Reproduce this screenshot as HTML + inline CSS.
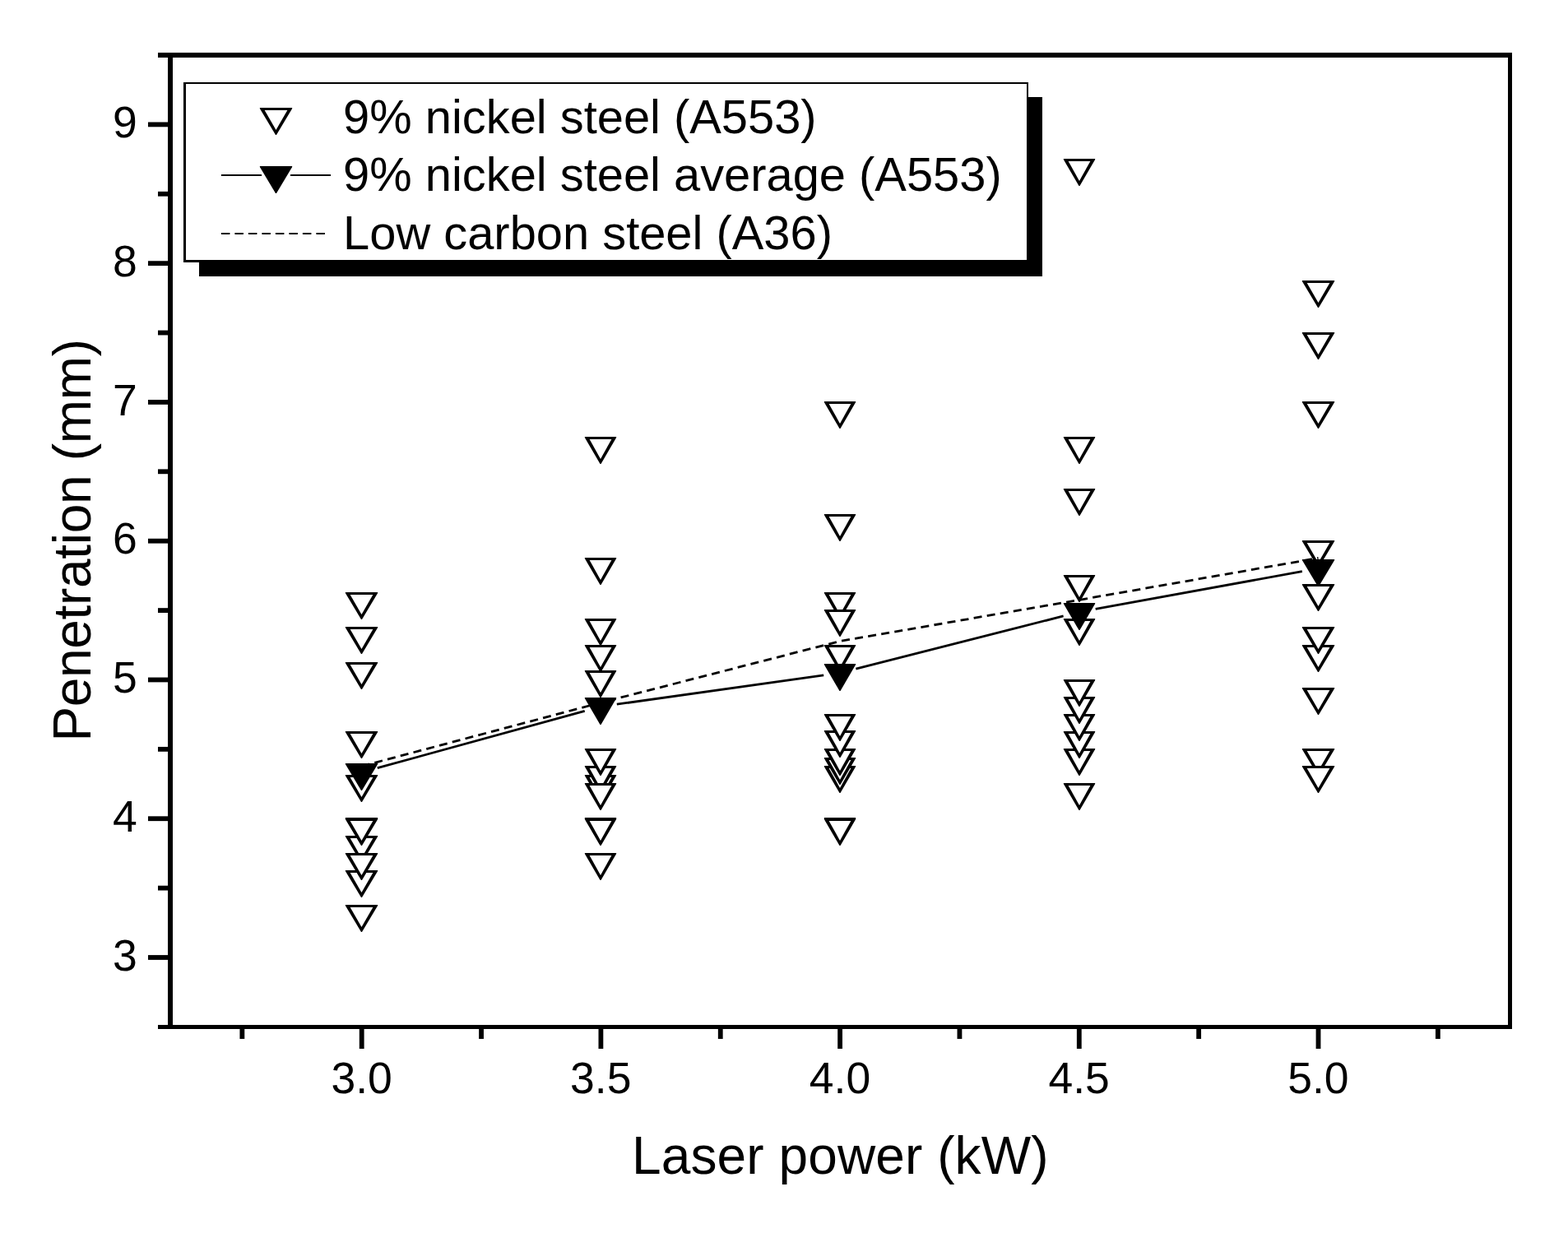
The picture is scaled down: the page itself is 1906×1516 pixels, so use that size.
<!DOCTYPE html>
<html lang="en"><head><meta charset="utf-8"><title>Penetration vs laser power</title>
<style>
html,body{margin:0;padding:0;background:#fff;}
body{width:1906px;height:1516px;overflow:hidden;}
svg{display:block;}
</style></head><body>
<svg width="1906" height="1516" viewBox="0 0 1906 1516" font-family="'Liberation Sans', sans-serif" fill="#000">
<rect width="1906" height="1516" fill="#fff"/>
<g shape-rendering="crispEdges">
<rect x="242" y="118" width="1025" height="218"/>
<rect x="223" y="100" width="1027" height="219"/>
<rect x="226" y="102" width="1022" height="214" fill="#fff"/>
</g>
<g shape-rendering="crispEdges">
<rect x="192" y="64" width="1646" height="6"/>
<rect x="192" y="1246" width="1646" height="5"/>
<rect x="204" y="64" width="6" height="1187"/>
<rect x="1833" y="64" width="5" height="1187"/>
</g>
<g>
<rect x="180" y="1161.10" width="25" height="5.8"/>
<rect x="192" y="1076.71" width="13" height="5.8"/>
<rect x="180" y="992.33" width="25" height="5.8"/>
<rect x="192" y="907.95" width="13" height="5.8"/>
<rect x="180" y="823.56" width="25" height="5.8"/>
<rect x="192" y="739.18" width="13" height="5.8"/>
<rect x="180" y="654.79" width="25" height="5.8"/>
<rect x="192" y="570.40" width="13" height="5.8"/>
<rect x="180" y="486.02" width="25" height="5.8"/>
<rect x="192" y="401.63" width="13" height="5.8"/>
<rect x="180" y="317.25" width="25" height="5.8"/>
<rect x="192" y="232.86" width="13" height="5.8"/>
<rect x="180" y="148.48" width="25" height="5.8"/>
<rect x="291.45" y="1250" width="5.8" height="13"/>
<rect x="436.80" y="1250" width="5.8" height="25"/>
<rect x="582.15" y="1250" width="5.8" height="13"/>
<rect x="727.50" y="1250" width="5.8" height="25"/>
<rect x="872.85" y="1250" width="5.8" height="13"/>
<rect x="1018.20" y="1250" width="5.8" height="25"/>
<rect x="1163.55" y="1250" width="5.8" height="13"/>
<rect x="1308.90" y="1250" width="5.8" height="25"/>
<rect x="1454.25" y="1250" width="5.8" height="13"/>
<rect x="1599.60" y="1250" width="5.8" height="25"/>
<rect x="1744.95" y="1250" width="5.8" height="13"/>
</g>
<g font-size="53.5px" text-anchor="end">
<text x="166.8" y="167.0">9</text>
<text x="166.8" y="335.8">8</text>
<text x="166.8" y="504.5">7</text>
<text x="166.8" y="673.3">6</text>
<text x="166.8" y="842.1">5</text>
<text x="166.8" y="1010.8">4</text>
<text x="166.8" y="1179.6">3</text>
</g>
<g font-size="53.5px" text-anchor="middle">
<text x="439.6" y="1328.7">3.0</text>
<text x="730.3" y="1328.7">3.5</text>
<text x="1021.0" y="1328.7">4.0</text>
<text x="1311.7" y="1328.7">4.5</text>
<text x="1602.4" y="1328.7">5.0</text>
</g>
<text x="1021.3" y="1426.6" font-size="64px" text-anchor="middle" textLength="506.4" lengthAdjust="spacing">Laser power (kW)</text>
<text transform="translate(110 656.8) rotate(-90)" font-size="64px" text-anchor="middle" textLength="489.5" lengthAdjust="spacing">Penetration (mm)</text>
<g>
<path d="M419.85 720.00H459.15V720.90L440.00 753.10H439.00L419.85 720.90Z"/><path d="M425.65 723.10H453.35L439.50 746.90Z" fill="#fff"/>
<path d="M419.85 762.00H459.15V762.90L440.00 795.10H439.00L419.85 762.90Z"/><path d="M425.65 765.10H453.35L439.50 788.90Z" fill="#fff"/>
<path d="M419.85 805.00H459.15V805.90L440.00 838.10H439.00L419.85 805.90Z"/><path d="M425.65 808.10H453.35L439.50 831.90Z" fill="#fff"/>
<path d="M419.85 889.00H459.15V889.90L440.00 922.10H439.00L419.85 889.90Z"/><path d="M425.65 892.10H453.35L439.50 915.90Z" fill="#fff"/>
<path d="M419.85 942.00H459.15V942.90L440.00 975.10H439.00L419.85 942.90Z"/><path d="M425.65 945.10H453.35L439.50 968.90Z" fill="#fff"/>
<path d="M419.85 1016.00H459.15V1016.90L440.00 1049.10H439.00L419.85 1016.90Z"/><path d="M425.65 1019.10H453.35L439.50 1042.90Z" fill="#fff"/>
<path d="M419.85 1058.00H459.15V1058.90L440.00 1091.10H439.00L419.85 1058.90Z"/><path d="M425.65 1061.10H453.35L439.50 1084.90Z" fill="#fff"/>
<path d="M419.85 994.00H459.15V994.90L440.00 1027.10H439.00L419.85 994.90Z"/><path d="M425.65 997.10H453.35L439.50 1020.90Z" fill="#fff"/>
<path d="M419.85 995.00H459.15V995.90L440.00 1028.10H439.00L419.85 995.90Z"/><path d="M425.65 998.10H453.35L439.50 1021.90Z" fill="#fff"/>
<path d="M419.85 1037.00H459.15V1037.90L440.00 1070.10H439.00L419.85 1037.90Z"/><path d="M425.65 1040.10H453.35L439.50 1063.90Z" fill="#fff"/>
<path d="M419.85 1100.00H459.15V1100.90L440.00 1133.10H439.00L419.85 1100.90Z"/><path d="M425.65 1103.10H453.35L439.50 1126.90Z" fill="#fff"/>
<path d="M710.85 531.00H749.15V531.90L730.50 564.10H729.50L710.85 531.90Z"/><path d="M716.65 534.10H743.35L730.00 557.90Z" fill="#fff"/>
<path d="M710.85 678.00H749.15V678.90L730.50 711.10H729.50L710.85 678.90Z"/><path d="M716.65 681.10H743.35L730.00 704.90Z" fill="#fff"/>
<path d="M710.85 752.00H749.15V752.90L730.50 785.10H729.50L710.85 752.90Z"/><path d="M716.65 755.10H743.35L730.00 778.90Z" fill="#fff"/>
<path d="M710.85 784.00H749.15V784.90L730.50 817.10H729.50L710.85 784.90Z"/><path d="M716.65 787.10H743.35L730.00 810.90Z" fill="#fff"/>
<path d="M710.85 815.00H749.15V815.90L730.50 848.10H729.50L710.85 815.90Z"/><path d="M716.65 818.10H743.35L730.00 841.90Z" fill="#fff"/>
<path d="M710.85 942.00H749.15V942.90L730.50 975.10H729.50L710.85 942.90Z"/><path d="M716.65 945.10H743.35L730.00 968.90Z" fill="#fff"/>
<path d="M710.85 931.00H749.15V931.90L730.50 964.10H729.50L710.85 931.90Z"/><path d="M716.65 934.10H743.35L730.00 957.90Z" fill="#fff"/>
<path d="M710.85 910.00H749.15V910.90L730.50 943.10H729.50L710.85 910.90Z"/><path d="M716.65 913.10H743.35L730.00 936.90Z" fill="#fff"/>
<path d="M710.85 952.00H749.15V952.90L730.50 985.10H729.50L710.85 952.90Z"/><path d="M716.65 955.10H743.35L730.00 978.90Z" fill="#fff"/>
<path d="M710.85 994.00H749.15V994.90L730.50 1027.10H729.50L710.85 994.90Z"/><path d="M716.65 997.10H743.35L730.00 1020.90Z" fill="#fff"/>
<path d="M710.85 995.00H749.15V995.90L730.50 1028.10H729.50L710.85 995.90Z"/><path d="M716.65 998.10H743.35L730.00 1021.90Z" fill="#fff"/>
<path d="M710.85 1037.00H749.15V1037.90L730.50 1070.10H729.50L710.85 1037.90Z"/><path d="M716.65 1040.10H743.35L730.00 1063.90Z" fill="#fff"/>
<path d="M1001.85 488.00H1040.15V488.90L1021.50 521.10H1020.50L1001.85 488.90Z"/><path d="M1007.65 491.10H1034.35L1021.00 514.90Z" fill="#fff"/>
<path d="M1001.85 625.00H1040.15V625.90L1021.50 658.10H1020.50L1001.85 625.90Z"/><path d="M1007.65 628.10H1034.35L1021.00 651.90Z" fill="#fff"/>
<path d="M1001.85 720.00H1040.15V720.90L1021.50 753.10H1020.50L1001.85 720.90Z"/><path d="M1007.65 723.10H1034.35L1021.00 746.90Z" fill="#fff"/>
<path d="M1001.85 741.00H1040.15V741.90L1021.50 774.10H1020.50L1001.85 741.90Z"/><path d="M1007.65 744.10H1034.35L1021.00 767.90Z" fill="#fff"/>
<path d="M1001.85 784.00H1040.15V784.90L1021.50 817.10H1020.50L1001.85 784.90Z"/><path d="M1007.65 787.10H1034.35L1021.00 810.90Z" fill="#fff"/>
<path d="M1001.85 931.00H1040.15V931.90L1021.50 964.10H1020.50L1001.85 931.90Z"/><path d="M1007.65 934.10H1034.35L1021.00 957.90Z" fill="#fff"/>
<path d="M1001.85 921.00H1040.15V921.90L1021.50 954.10H1020.50L1001.85 921.90Z"/><path d="M1007.65 924.10H1034.35L1021.00 947.90Z" fill="#fff"/>
<path d="M1001.85 910.00H1040.15V910.90L1021.50 943.10H1020.50L1001.85 910.90Z"/><path d="M1007.65 913.10H1034.35L1021.00 936.90Z" fill="#fff"/>
<path d="M1001.85 888.00H1040.15V888.90L1021.50 921.10H1020.50L1001.85 888.90Z"/><path d="M1007.65 891.10H1034.35L1021.00 914.90Z" fill="#fff"/>
<path d="M1001.85 868.00H1040.15V868.90L1021.50 901.10H1020.50L1001.85 868.90Z"/><path d="M1007.65 871.10H1034.35L1021.00 894.90Z" fill="#fff"/>
<path d="M1001.85 994.00H1040.15V994.90L1021.50 1027.10H1020.50L1001.85 994.90Z"/><path d="M1007.65 997.10H1034.35L1021.00 1020.90Z" fill="#fff"/>
<path d="M1001.85 995.00H1040.15V995.90L1021.50 1028.10H1020.50L1001.85 995.90Z"/><path d="M1007.65 998.10H1034.35L1021.00 1021.90Z" fill="#fff"/>
<path d="M1292.85 193.00H1331.15V193.90L1312.50 226.10H1311.50L1292.85 193.90Z"/><path d="M1298.65 196.10H1325.35L1312.00 219.90Z" fill="#fff"/>
<path d="M1292.85 531.00H1331.15V531.90L1312.50 564.10H1311.50L1292.85 531.90Z"/><path d="M1298.65 534.10H1325.35L1312.00 557.90Z" fill="#fff"/>
<path d="M1292.85 594.00H1331.15V594.90L1312.50 627.10H1311.50L1292.85 594.90Z"/><path d="M1298.65 597.10H1325.35L1312.00 620.90Z" fill="#fff"/>
<path d="M1292.85 699.00H1331.15V699.90L1312.50 732.10H1311.50L1292.85 699.90Z"/><path d="M1298.65 702.10H1325.35L1312.00 725.90Z" fill="#fff"/>
<path d="M1292.85 752.00H1331.15V752.90L1312.50 785.10H1311.50L1292.85 752.90Z"/><path d="M1298.65 755.10H1325.35L1312.00 778.90Z" fill="#fff"/>
<path d="M1292.85 910.00H1331.15V910.90L1312.50 943.10H1311.50L1292.85 910.90Z"/><path d="M1298.65 913.10H1325.35L1312.00 936.90Z" fill="#fff"/>
<path d="M1292.85 889.00H1331.15V889.90L1312.50 922.10H1311.50L1292.85 889.90Z"/><path d="M1298.65 892.10H1325.35L1312.00 915.90Z" fill="#fff"/>
<path d="M1292.85 868.00H1331.15V868.90L1312.50 901.10H1311.50L1292.85 868.90Z"/><path d="M1298.65 871.10H1325.35L1312.00 894.90Z" fill="#fff"/>
<path d="M1292.85 847.00H1331.15V847.90L1312.50 880.10H1311.50L1292.85 847.90Z"/><path d="M1298.65 850.10H1325.35L1312.00 873.90Z" fill="#fff"/>
<path d="M1292.85 826.00H1331.15V826.90L1312.50 859.10H1311.50L1292.85 826.90Z"/><path d="M1298.65 829.10H1325.35L1312.00 852.90Z" fill="#fff"/>
<path d="M1292.85 952.00H1331.15V952.90L1312.50 985.10H1311.50L1292.85 952.90Z"/><path d="M1298.65 955.10H1325.35L1312.00 978.90Z" fill="#fff"/>
<path d="M1582.85 341.00H1622.15V341.90L1603.00 374.10H1602.00L1582.85 341.90Z"/><path d="M1588.65 344.10H1616.35L1602.50 367.90Z" fill="#fff"/>
<path d="M1582.85 404.00H1622.15V404.90L1603.00 437.10H1602.00L1582.85 404.90Z"/><path d="M1588.65 407.10H1616.35L1602.50 430.90Z" fill="#fff"/>
<path d="M1582.85 488.00H1622.15V488.90L1603.00 521.10H1602.00L1582.85 488.90Z"/><path d="M1588.65 491.10H1616.35L1602.50 514.90Z" fill="#fff"/>
<path d="M1582.85 657.00H1622.15V657.90L1603.00 690.10H1602.00L1582.85 657.90Z"/><path d="M1588.65 660.10H1616.35L1602.50 683.90Z" fill="#fff"/>
<path d="M1582.85 710.00H1622.15V710.90L1603.00 743.10H1602.00L1582.85 710.90Z"/><path d="M1588.65 713.10H1616.35L1602.50 736.90Z" fill="#fff"/>
<path d="M1582.85 784.00H1622.15V784.90L1603.00 817.10H1602.00L1582.85 784.90Z"/><path d="M1588.65 787.10H1616.35L1602.50 810.90Z" fill="#fff"/>
<path d="M1582.85 762.00H1622.15V762.90L1603.00 795.10H1602.00L1582.85 762.90Z"/><path d="M1588.65 765.10H1616.35L1602.50 788.90Z" fill="#fff"/>
<path d="M1582.85 836.00H1622.15V836.90L1603.00 869.10H1602.00L1582.85 836.90Z"/><path d="M1588.65 839.10H1616.35L1602.50 862.90Z" fill="#fff"/>
<path d="M1582.85 910.00H1622.15V910.90L1603.00 943.10H1602.00L1582.85 910.90Z"/><path d="M1588.65 913.10H1616.35L1602.50 936.90Z" fill="#fff"/>
<path d="M1582.85 931.00H1622.15V931.90L1603.00 964.10H1602.00L1582.85 931.90Z"/><path d="M1588.65 934.10H1616.35L1602.50 957.90Z" fill="#fff"/>
</g>
<path d="M458.78 933.69L710.72 864.31M749.80 856.21L1001.20 820.79M1040.38 813.07L1292.62 748.93M1331.68 740.41L1582.82 694.59" fill="none" stroke="#000" stroke-width="2.8"/>
<g>
<path d="M419.85 928.00H459.15V928.90L440.00 961.10H439.00L419.85 928.90Z"/>
<path d="M710.85 848.00H749.15V848.90L730.50 881.10H729.50L710.85 848.90Z"/>
<path d="M1001.85 807.00H1040.15V807.90L1021.50 840.10H1020.50L1001.85 807.90Z"/>
<path d="M1292.85 733.00H1331.15V733.90L1312.50 766.10H1311.50L1292.85 733.90Z"/>
<path d="M1582.85 680.00H1622.15V680.90L1603.00 713.10H1602.00L1582.85 680.90Z"/>
</g>
<path d="M439.50 931.50L730.00 854.30L1021.00 779.50L1312.00 729.30L1602.50 678.40" fill="none" stroke="#000" stroke-width="2.8" stroke-dasharray="10 6.3"/>
<path d="M315.85 131.00H355.15V131.90L336.00 164.10H335.00L315.85 131.90Z"/><path d="M321.65 134.10H349.35L335.50 157.90Z" fill="#fff"/>
<path d="M268.9 213H318M353 213H402" stroke="#000" stroke-width="2.2" fill="none"/>
<path d="M315.85 202.00H355.15V202.90L336.00 235.10H335.00L315.85 202.90Z"/>
<path d="M268.9 284H395.2" stroke="#000" stroke-width="2.2" stroke-dasharray="10.5 6" fill="none"/>
<g font-size="57.85px">
<text x="417.1" y="162">9% nickel steel (A553)</text>
<text x="417.1" y="231.8">9% nickel steel average (A553)</text>
<text x="417.1" y="302.9">Low carbon steel (A36)</text>
</g>
</svg>
</body></html>
